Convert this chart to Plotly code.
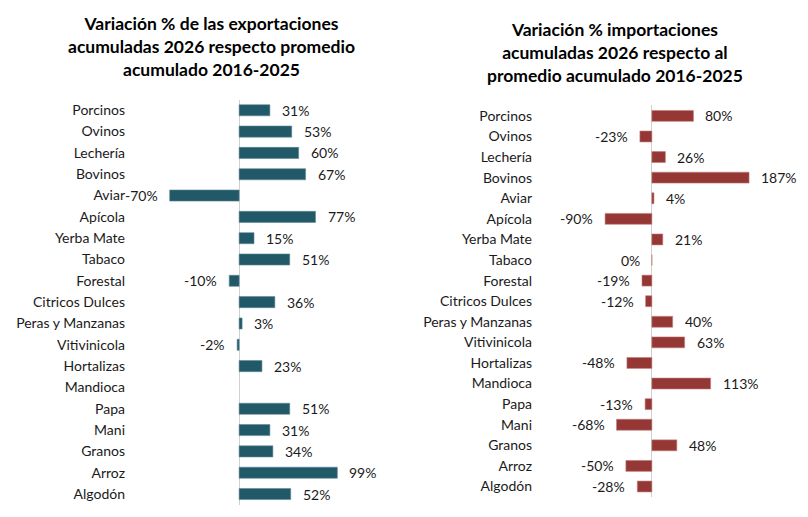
import plotly.graph_objects as go

categories = ["Porcinos", "Ovinos", "Lechería", "Bovinos", "Aviar", "Apícola",
              "Yerba Mate", "Tabaco", "Forestal", "Citricos Dulces",
              "Peras y Manzanas", "Vitivinicola", "Hortalizas", "Mandioca",
              "Papa", "Mani", "Granos", "Arroz", "Algodón"]
exportaciones = [31, 53, 60, 67, -70, 77, 15, 51, -10, 36, 3, -2, 23, None,
                 51, 31, 34, 99, 52]
importaciones = [80, -23, 26, 187, 4, -90, 21, 0, -19, -12, 40, 63, -48, 113,
                 -13, -68, 48, -50, -28]

title_exp = "Variación % de las exportaciones<br>acumuladas 2026 respecto promedio<br>acumulado 2016-2025"
title_imp = "Variación % importaciones<br>acumuladas 2026 respecto al<br>promedio acumulado 2016-2025"

FONT = "Lato"
COL_EXP = "#215968"
COL_IMP = "#953735"
W, H = 808, 517

fig = go.Figure()
fig.add_trace(go.Bar(y=categories, x=exportaciones, orientation="h",
                     marker=dict(color=COL_EXP, line=dict(color="#5f8894", width=0.6)),
                     width=0.52, xaxis="x", yaxis="y", showlegend=False, hoverinfo="skip"))
fig.add_trace(go.Bar(y=categories, x=importaciones, orientation="h",
                     marker=dict(color=COL_IMP, line=dict(color="#c07d7c", width=0.6)),
                     width=0.53, xaxis="x2", yaxis="y2", showlegend=False, hoverinfo="skip"))

annotations = []
for cat, v in zip(categories, exportaciones):
    if v is None:
        continue
    annotations.append(dict(x=v, y=cat, xref="x", yref="y", text=f"{v}%",
                            showarrow=False, xanchor="left" if v > 0 else "right",
                            xshift=10 if v > 0 else -10,
                            font=dict(family=FONT, size=14, color="#1a1a1a")))
for cat, v in zip(categories, importaciones):
    annotations.append(dict(x=v, y=cat, xref="x2", yref="y2", text=f"{v}%",
                            showarrow=False, xanchor="left" if v > 0 else "right",
                            xshift=10 if v > 0 else -10,
                            font=dict(family=FONT, size=14, color="#1a1a1a")))

annotations.append(dict(x=203 / W, y=1 - 3 / H, xref="paper", yref="paper",
                        text=f"<b>{title_exp}</b>", showarrow=False,
                        xanchor="center", yanchor="top", align="center",
                        font=dict(family=FONT, size=17.5, color="#000")))
annotations.append(dict(x=607 / W, y=1 - 9 / H, xref="paper", yref="paper",
                        text=f"<b>{title_imp}</b>", showarrow=False,
                        xanchor="center", yanchor="top", align="center",
                        font=dict(family=FONT, size=17.5, color="#000")))

xcommon = dict(showgrid=False, showticklabels=False, ticks="", zeroline=True,
               zerolinecolor="#d0d0d0", zerolinewidth=1.2, showline=False,
               fixedrange=True, automargin=False)
ycommon = dict(showgrid=False, autorange="reversed", ticks="", showline=False,
               tickfont=dict(family=FONT, size=14, color="#1a1a1a"), ticklabelstandoff=4,
               categoryorder="array", categoryarray=categories, automargin=False)

fig.update_layout(
    width=W, height=H,
    margin=dict(l=0, r=0, t=0, b=0),
    paper_bgcolor="white", plot_bgcolor="white",
    barmode="overlay",
    xaxis=dict(domain=[122 / W, 372 / W], range=[-110, 142], anchor="y", **xcommon),
    yaxis=dict(domain=[1 - 496.7 / H, 1 - 91.6 / H], anchor="x", **ycommon),
    xaxis2=dict(domain=[529 / W, 792 / W], range=[-221, 285], anchor="y2", **xcommon),
    yaxis2=dict(domain=[1 - 489 / H, 1 - 97.4 / H], anchor="x2", **ycommon),
    annotations=annotations,
)

fig.write_html("out.html")
